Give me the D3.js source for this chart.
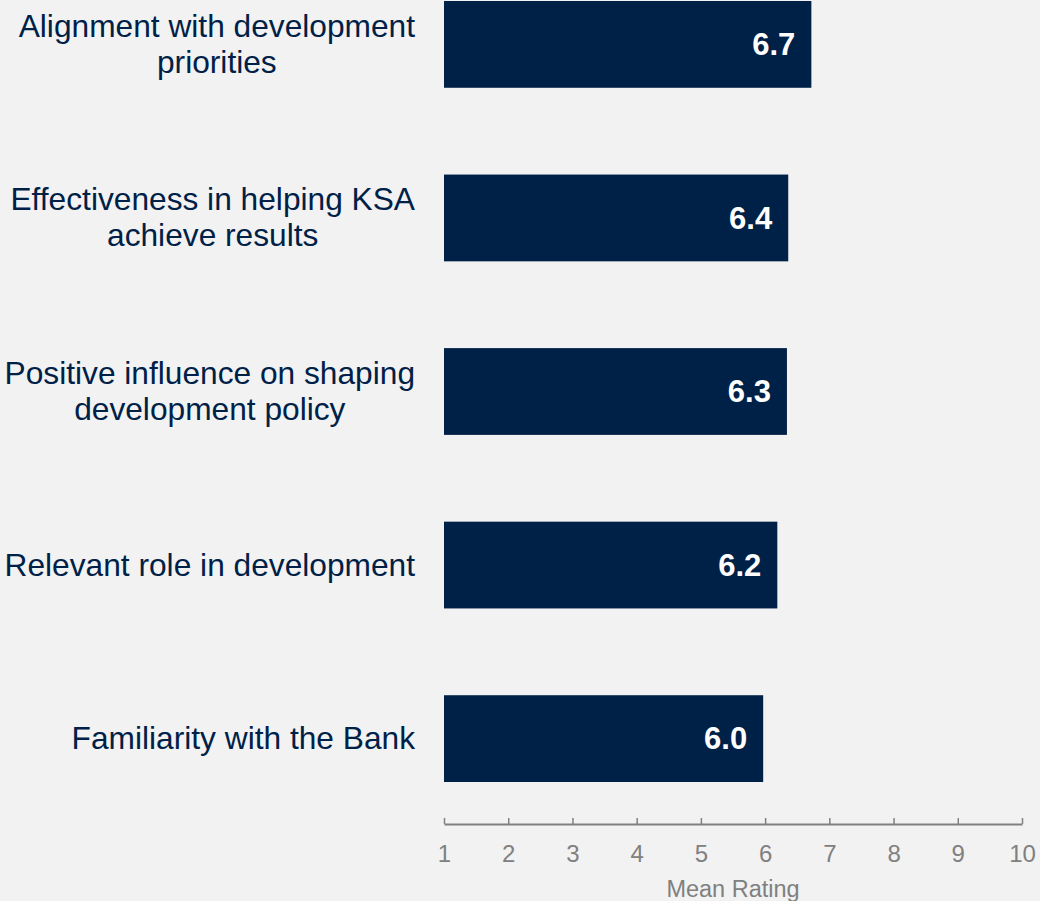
<!DOCTYPE html>
<html>
<head>
<meta charset="utf-8">
<script src="https://cdn.jsdelivr.net/npm/d3@7"></script>
<style>
  html, body { margin: 0; padding: 0; background: #f2f2f2; }
  svg { display: block; font-family: Arial, "Liberation Sans", sans-serif; }
</style>
</head>
<body>
<svg id="chart"></svg>
<script>
var width = 1040;
var height = 901;

// data
var categories = [
  ['Alignment with development', 'priorities'],
  ['Effectiveness in helping KSA', 'achieve results'],
  ['Positive influence on shaping', 'development policy'],
  ['Relevant role in development'],
  ['Familiarity with the Bank']
];
var values = [6.72, 6.36, 6.34, 6.19, 5.97];
var valueLabels = ['6.7', '6.4', '6.3', '6.2', '6.0'];
var xTicks = [1, 2, 3, 4, 5, 6, 7, 8, 9, 10];

var navy = '#002147';
var grey = '#808080';

var svg = d3.select('#chart')
  .attr('width', width)
  .attr('height', height);

svg.append('rect')
  .attr('width', width)
  .attr('height', height)
  .attr('fill', '#f2f2f2');

var x = d3.scaleLinear()
  .domain([1, 10])
  .range([444, 1022]);

var y = d3.scaleBand()
  .domain(d3.range(values.length))
  .range([1, 782])
  .paddingInner(0.5)
  .paddingOuter(0);

// bars
svg.selectAll('rect.bar')
  .data(values)
  .enter().append('rect')
  .attr('class', 'bar')
  .attr('x', x(1))
  .attr('y', (d, i) => y(i))
  .attr('width', d => x(d) - x(1))
  .attr('height', y.bandwidth())
  .attr('fill', navy);

// value labels inside the bars
svg.selectAll('text.value')
  .data(values)
  .enter().append('text')
  .attr('class', 'value')
  .attr('x', d => x(d) - 16)
  .attr('y', (d, i) => y(i) + y.bandwidth() / 2)
  .attr('dy', '0.35em')
  .attr('text-anchor', 'end')
  .attr('fill', '#ffffff')
  .style('font-size', '31px')
  .style('font-weight', 'bold')
  .text((d, i) => valueLabels[i]);

// category labels, lines centred, block right-aligned
var lineHeight = 36;
var labelRight = 415;
categories.forEach(function (lines, i) {
  var g = svg.append('text')
    .attr('fill', navy)
    .attr('text-anchor', 'middle')
    .style('font-size', '31.7px');
  var cy = y(i) + y.bandwidth() / 2;
  var tspans = lines.map(function (line, j) {
    return g.append('tspan')
      .attr('y', cy + (j - (lines.length - 1) / 2) * lineHeight)
      .attr('dy', '0.33em')
      .text(line);
  });
  var maxW = d3.max(tspans, t => t.node().getComputedTextLength());
  tspans.forEach(t => t.attr('x', labelRight - maxW / 2));
});

// x axis, ticks pointing up
var axisY = 824;
var axis = svg.append('g')
  .attr('transform', 'translate(0,' + axisY + ')')
  .call(d3.axisBottom(x).tickValues(xTicks).tickSizeInner(-6).tickSizeOuter(0).tickPadding(21));

axis.select('.domain').attr('stroke', grey).attr('stroke-width', 2);
axis.selectAll('.tick line').attr('stroke', grey).attr('stroke-width', 1.5);
axis.selectAll('.tick text')
  .attr('fill', grey)
  .style('font-size', '24px')
  .style('font-family', 'Arial, "Liberation Sans", sans-serif');

svg.append('text')
  .attr('x', (x.range()[0] + x.range()[1]) / 2)
  .attr('y', 897)
  .attr('text-anchor', 'middle')
  .attr('fill', grey)
  .style('font-size', '23.5px')
  .text('Mean Rating');
</script>
</body>
</html>
